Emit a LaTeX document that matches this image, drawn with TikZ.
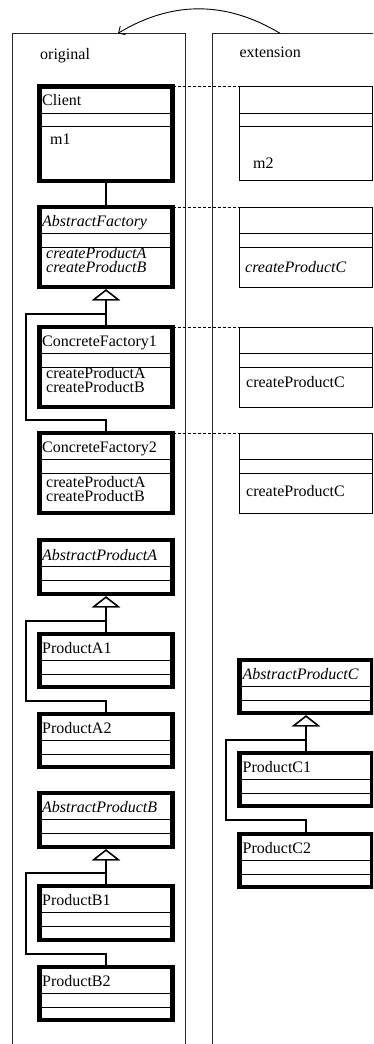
\documentclass[tikz,border=0pt]{standalone}
\usepackage{fontspec}
\setmainfont{Liberation Serif}
\usetikzlibrary{arrows.meta,calc}

\begin{document}
\begin{tikzpicture}[
    x=1pt, y=-1pt,
    every node/.style={font=\fontsize{16}{14}\selectfont},
    panel/.style={draw, black!85, line width=0.9pt, minimum width=173pt,
        minimum height=1100pt, anchor=north west, inner sep=0pt, outer sep=0pt},
    cls/.style={draw, line width=4.7pt, minimum width=133pt, anchor=north,
        inner sep=0pt, outer sep=0pt},
    ext/.style={draw, line width=1pt, minimum width=133pt, anchor=north,
        inner sep=0pt, outer sep=0pt},
    txt/.style={anchor=base west, inner sep=0pt, align=left},
    inherit/.style={line width=1.3pt, -{Triangle[open, width=28pt, length=11pt]},
        shorten >=2.3pt},
    assoc/.style={line width=1.3pt},
    trace/.style={line width=1pt, dash pattern=on 3pt off 2pt}
]
\useasboundingbox (0,0) rectangle (373,1044);
\clip (0,0) rectangle (373,1044);

% Panels
\node[panel] (orig) at (12.7,33.3) {};
\node[panel, minimum width=200pt] (extn) at (212.7,33.3) {};
\node[txt] (origlbl) at (40,59.3) {original};
\node[txt] (extnlbl) at (239.3,57.7) {extension};

% Move arc
\coordinate (arcS) at (280,33.3);
\coordinate (arcE) at (118,33.3);
\draw[line width=0.9pt, -{Straight Barb[length=5pt, width=10pt]}]
    (arcS) to[bend right=31] (arcE);

% Factories (original)
\node[cls, minimum height=94.5pt] (client) at (106,86.5) {};
\node[cls, minimum height=80pt] (af) at (106,207) {};
\node[cls, minimum height=80pt] (cf1) at (106,327) {};
\node[cls, minimum height=80pt] (cf2) at (106,433) {};

% Factories (extension)
\node[ext, minimum height=93.5pt] (clientx) at (306,86.5) {};
\node[ext, minimum height=80pt] (afx) at (306,207) {};
\node[ext, minimum height=80pt] (cf1x) at (306,327) {};
\node[ext, minimum height=80pt] (cf2x) at (306,433) {};

% Products
\node[cls, minimum height=54pt] (apa) at (106,540) {};
\node[cls, minimum height=53pt] (pa1) at (106,634) {};
\node[cls, minimum height=53pt] (pa2) at (106,714) {};
\node[cls, minimum height=54pt] (apb) at (106,793) {};
\node[cls, minimum height=54pt] (pb1) at (106,886) {};
\node[cls, minimum height=53pt] (pb2) at (106,967) {};
\node[cls, minimum height=53pt] (apc) at (306,660) {};
\node[cls, minimum height=53pt] (pc1) at (306,753) {};
\node[cls, minimum height=53pt] (pc2) at (306,834) {};

% Compartments
\foreach \b in {client,af,cf1,cf2,clientx,afx,cf1x,cf2x,apa,pa1,pa2,apb,pb1,pb2,apc,pc1,pc2}
    \draw[line width=1pt]
        ([yshift=-26.7pt]\b.north west) -- ([yshift=-26.7pt]\b.north east)
        ([yshift=-40pt]\b.north west) -- ([yshift=-40pt]\b.north east);

% Names
\node[txt] (clientname) at ([xshift=2.5pt, yshift=-19pt]client.north west) {Client};
\node[txt] (afname) at ([xshift=2.5pt, yshift=-19pt]af.north west) {\itshape AbstractFactory};
\node[txt] (cf1name) at ([xshift=2.5pt, yshift=-19.5pt]cf1.north west) {ConcreteFactory1};
\node[txt] (cf2name) at ([xshift=2.5pt, yshift=-19.5pt]cf2.north west) {ConcreteFactory2};
\node[txt] (apaname) at ([xshift=2.5pt, yshift=-20pt]apa.north west) {\itshape AbstractProductA};
\node[txt] (pa1name) at ([xshift=2.5pt, yshift=-19pt]pa1.north west) {ProductA1};
\node[txt] (pa2name) at ([xshift=2.5pt, yshift=-19pt]pa2.north west) {ProductA2};
\node[txt] (apbname) at ([xshift=2.5pt, yshift=-19.5pt]apb.north west) {\itshape AbstractProductB};
\node[txt] (pb1name) at ([xshift=2.5pt, yshift=-19pt]pb1.north west) {ProductB1};
\node[txt] (pb2name) at ([xshift=2.5pt, yshift=-19pt]pb2.north west) {ProductB2};
\node[txt] (apcname) at ([xshift=3pt, yshift=-19pt]apc.north west) {\itshape AbstractProductC};
\node[txt] (pc1name) at ([xshift=3pt, yshift=-19pt]pc1.north west) {ProductC1};
\node[txt] (pc2name) at ([xshift=3pt, yshift=-19pt]pc2.north west) {ProductC2};

% Methods
\node[txt] (clientops) at ([xshift=10.5pt, yshift=-58.2pt]client.north west) {m1};
\node[txt] (clientxops) at ([xshift=13.5pt, yshift=-82.2pt]clientx.north west) {m2};
\node[txt] (afops) at ([xshift=6.5pt, yshift=-65.5pt]af.north west)
    {\itshape createProductA\\\itshape createProductB};
\node[txt] (cf1ops) at ([xshift=6.5pt, yshift=-65.5pt]cf1.north west)
    {createProductA\\createProductB};
\node[txt] (cf2ops) at ([xshift=6.5pt, yshift=-68pt]cf2.north west)
    {createProductA\\createProductB};
\node[txt] (afxops) at ([xshift=5.5pt, yshift=-65.5pt]afx.north west) {\itshape createProductC};
\node[txt] (cf1xops) at ([xshift=6.5pt, yshift=-60.5pt]cf1x.north west) {createProductC};
\node[txt] (cf2xops) at ([xshift=6.5pt, yshift=-63.5pt]cf2x.north west) {createProductC};

% Trace lines
\draw[trace] (client.north east) -- (clientx.north west);
\draw[trace] (af.north east) -- (afx.north west);
\draw[trace] (cf1.north east) -- (cf1x.north west);
\draw[trace] (cf2.north east) -- (cf2x.north west);

% Association
\draw[assoc] (client.south) -- (af.north);

% Generalisation
\draw[inherit] (cf1.north) -- (af.south);
\draw[inherit] (cf2.north) -- ++(0,-13) -- ++(-80,0) |- ($(af.south)+(0,27)$) -- (af.south);
\draw[inherit] (pa1.north) -- (apa.south);
\draw[inherit] (pa2.north) -- ++(0,-13) -- ++(-80,0) |- ($(apa.south)+(0,27)$) -- (apa.south);
\draw[inherit] (pb1.north) -- (apb.south);
\draw[inherit] (pb2.north) -- ++(0,-13) -- ++(-80,0) |- ($(apb.south)+(0,26)$) -- (apb.south);
\draw[inherit] (pc1.north) -- (apc.south);
\draw[inherit] (pc2.north) -- ++(0,-14) -- ++(-80,0) |- ($(apc.south)+(0,27)$) -- (apc.south);
\end{tikzpicture}
\end{document}
